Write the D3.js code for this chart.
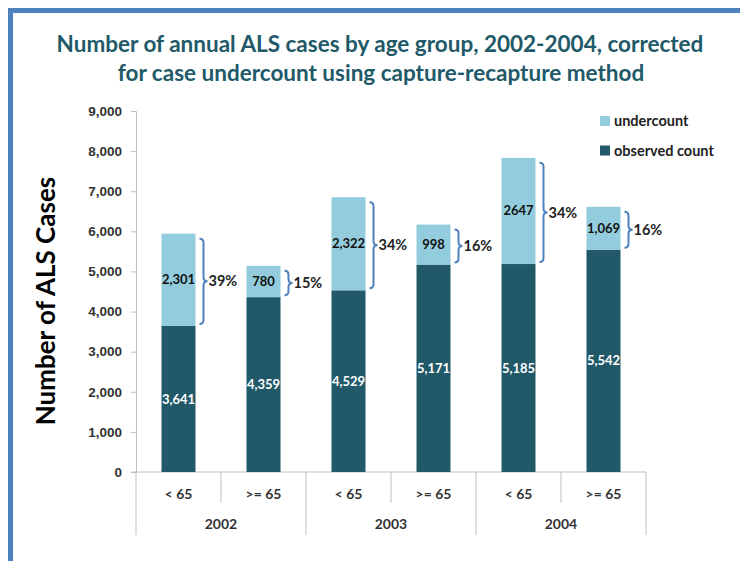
<!DOCTYPE html>
<html>
<head>
<meta charset="utf-8">
<script src="https://cdn.jsdelivr.net/npm/d3@7"></script>
<style>
  body { margin: 0; background: #fff; }
  svg { display: block; font-family: Lato, "Open Sans", sans-serif; }
</style>
</head>
<body>
<div id="chart"></div>
<script>
// chart data
const ageGroups = ["< 65", ">= 65", "< 65", ">= 65", "< 65", ">= 65"];
const years = ["2002", "2003", "2004"];
const observed = [3641, 4359, 4529, 5171, 5185, 5542];
const undercount = [2301, 780, 2322, 998, 2647, 1069];
const undercountLabels = ["2,301", "780", "2,322", "998", "2647", "1,069"];
const yTicks = [0, 1000, 2000, 3000, 4000, 5000, 6000, 7000, 8000, 9000];
const seriesNames = ["undercount", "observed count"];

const dark = "#215968", light = "#93cddd", blue = "#4f81bd";

var W = 740, H = 561;
var svg = d3.select("#chart").append("svg")
    .attr("width", W).attr("height", H);

// frame (left + top edges visible)
svg.append("rect")
    .attr("x", 10.5).attr("y", 10.5)
    .attr("width", 800).attr("height", 600)
    .attr("fill", "none")
    .attr("stroke", blue)
    .attr("stroke-width", 5);

// title
var title = svg.append("text")
    .attr("text-anchor", "middle")
    .attr("fill", "#215968")
    .style("font-size", "22.5px")
    .style("font-weight", "bold");
title.append("tspan").attr("x", 380).attr("y", 52)
    .text("Number of annual ALS cases by age group, 2002-2004, corrected");
title.append("tspan").attr("x", 381).attr("y", 81)
    .text("for case undercount using capture-recapture method");

// scales
var idx = d3.range(ageGroups.length);
var x = d3.scaleBand().domain(idx).range([136, 646])
    .paddingInner(0.6).paddingOuter(0.3);
var xs = d3.scaleBand().domain(idx).range([136, 646]);
var y = d3.scaleLinear().domain([0, 9000]).range([472, 111]);

// y axis
var yAxis = svg.append("g")
    .attr("transform", "translate(136,0)")
    .call(d3.axisLeft(y).tickValues(yTicks).tickFormat(d3.format(",")).tickSize(5).tickPadding(9));
yAxis.selectAll("path, line").attr("stroke", "#bfbfbf");
yAxis.selectAll("text")
    .style("font-size", "13.5px").style("font-weight", "bold")
    .attr("fill", "#333");

// y axis title
svg.append("text")
    .attr("transform", "translate(55,301) rotate(-90)")
    .attr("text-anchor", "middle")
    .attr("fill", "#000")
    .style("font-size", "26px")
    .style("font-weight", "bold")
    .text("Number of ALS Cases");

// x axis: baseline + separators
svg.append("line")
    .attr("x1", 131).attr("x2", 646)
    .attr("y1", y(0)).attr("y2", y(0))
    .attr("stroke", "#bfbfbf");
var seps = svg.append("g").attr("stroke", "#bfbfbf");
seps.append("line").attr("x1", 136).attr("x2", 136)
    .attr("y1", y(0)).attr("y2", 535);
idx.forEach(function(i) {
    var xe = xs(i) + xs.bandwidth();
    var groupEnd = (i % 2 === 1);
    seps.append("line")
        .attr("x1", xe).attr("x2", xe)
        .attr("y1", y(0)).attr("y2", groupEnd ? 535 : 503);
});

svg.append("g").selectAll("text")
    .data(ageGroups).join("text")
    .attr("x", function(d, i) { return xs(i) + xs.bandwidth() / 2; })
    .attr("y", 499)
    .attr("text-anchor", "middle")
    .attr("fill", "#333")
    .style("font-size", "14px").style("font-weight", "bold")
    .text(function(d) { return d; });

svg.append("g").selectAll("text")
    .data(years).join("text")
    .attr("x", function(d, i) { return xs(i * 2) + xs.bandwidth(); })
    .attr("y", 529)
    .attr("text-anchor", "middle")
    .attr("fill", "#333")
    .style("font-size", "14px").style("font-weight", "bold")
    .text(function(d) { return d; });

// stacked bars
var bars = svg.append("g");
bars.selectAll("rect.obs")
    .data(observed).join("rect")
    .attr("class", "obs")
    .attr("x", function(d, i) { return x(i); })
    .attr("y", function(d) { return y(d); })
    .attr("width", x.bandwidth())
    .attr("height", function(d) { return y(0) - y(d); })
    .attr("fill", dark);
bars.selectAll("rect.under")
    .data(undercount).join("rect")
    .attr("class", "under")
    .attr("x", function(d, i) { return x(i); })
    .attr("y", function(d, i) { return y(observed[i] + d); })
    .attr("width", x.bandwidth())
    .attr("height", function(d, i) { return y(observed[i]) - y(observed[i] + d); })
    .attr("fill", light);

// segment labels
svg.append("g").selectAll("text")
    .data(observed).join("text")
    .attr("x", function(d, i) { return x(i) + x.bandwidth() / 2; })
    .attr("y", function(d) { return (y(0) + y(d)) / 2; })
    .attr("dy", "0.35em")
    .attr("text-anchor", "middle")
    .attr("fill", "#fff")
    .style("font-size", "13px").style("font-weight", "bold")
    .text(function(d) { return d3.format(",")(d); });

svg.append("g").selectAll("text")
    .data(undercount).join("text")
    .attr("x", function(d, i) { return x(i) + x.bandwidth() / 2; })
    .attr("y", function(d, i) { return (y(observed[i]) + y(observed[i] + d)) / 2; })
    .attr("dy", "0.35em")
    .attr("text-anchor", "middle")
    .attr("fill", "#111")
    .style("font-size", "13px").style("font-weight", "bold")
    .text(function(d, i) { return undercountLabels[i]; });

// braces with percent of total
idx.forEach(function(i) {
    var top = y(observed[i] + undercount[i]) + 5;
    var bot = y(observed[i]) - 2;
    var mid = (top + bot) / 2;
    var x0 = x(i) + x.bandwidth() + 4, x1 = x0 + 4, x2 = x1 + 4, r = 4;
    var p = d3.path();
    p.moveTo(x0, top);
    p.quadraticCurveTo(x1, top, x1, top + r);
    p.lineTo(x1, mid - r);
    p.quadraticCurveTo(x1, mid, x2, mid);
    p.quadraticCurveTo(x1, mid, x1, mid + r);
    p.lineTo(x1, bot - r);
    p.quadraticCurveTo(x1, bot, x0, bot);
    svg.append("path")
        .attr("d", p.toString())
        .attr("fill", "none")
        .attr("stroke", blue)
        .attr("stroke-width", 2);
    var pct = Math.round(undercount[i] / (observed[i] + undercount[i]) * 100);
    svg.append("text")
        .attr("x", x2 + 1)
        .attr("y", mid)
        .attr("dy", "0.35em")
        .attr("fill", "#222")
        .style("font-size", "14.5px").style("font-weight", "bold")
        .text(pct + "%");
});

// legend
var legend = svg.append("g").selectAll("g")
    .data(seriesNames).join("g")
    .attr("transform", function(d, i) { return "translate(600," + (121 + i * 29.5) + ")"; });
legend.append("rect")
    .attr("x", 0).attr("y", -5)
    .attr("width", 10).attr("height", 10)
    .attr("fill", function(d, i) { return i === 0 ? light : dark; });
legend.append("text")
    .attr("x", 14).attr("dy", "0.35em")
    .attr("fill", "#222")
    .style("font-size", "14.5px").style("font-weight", "bold")
    .text(function(d) { return d; });
</script>
</body>
</html>
